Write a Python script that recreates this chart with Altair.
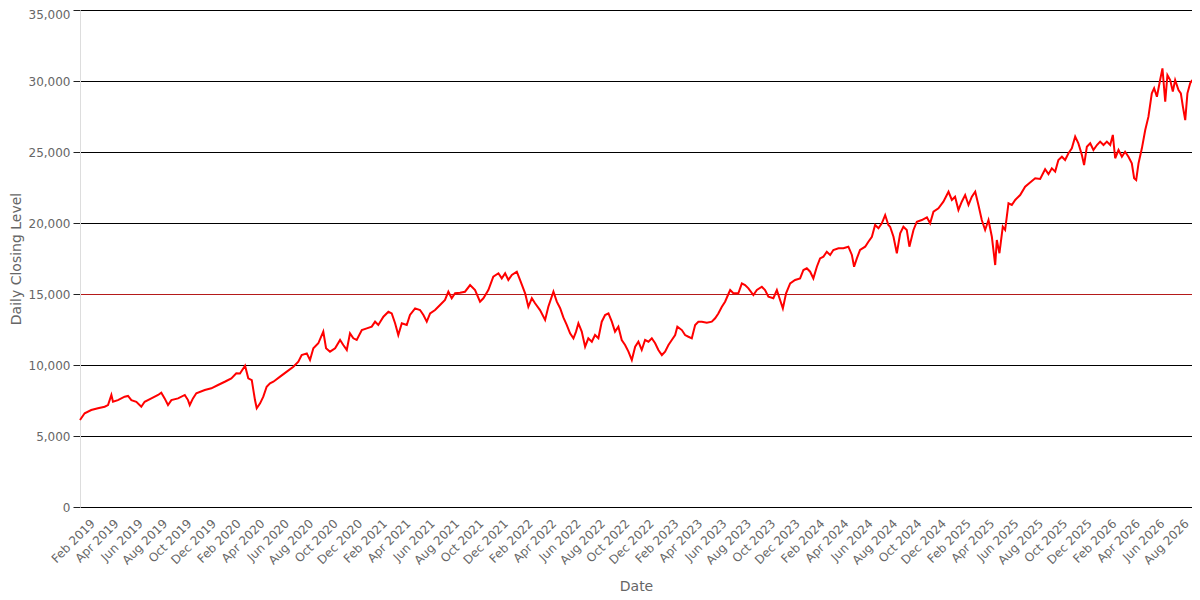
import altair as alt
import pandas as pd

# Decimal-year positions of the readings and the closing levels
years = [
    2019.000, 2019.032, 2019.077, 2019.123, 2019.169, 2019.192, 2019.215, 2019.226, 2019.260, 2019.306,
    2019.329, 2019.352, 2019.386, 2019.420, 2019.443, 2019.489, 2019.535, 2019.557, 2019.580, 2019.603,
    2019.626, 2019.672, 2019.718, 2019.740, 2019.752, 2019.774, 2019.797, 2019.855, 2019.900, 2019.946,
    2019.992, 2020.037, 2020.071, 2020.096, 2020.131, 2020.153, 2020.177, 2020.199, 2020.211, 2020.234,
    2020.256, 2020.279, 2020.302, 2020.325, 2020.371, 2020.417, 2020.462, 2020.496, 2020.519, 2020.554,
    2020.576, 2020.599, 2020.633, 2020.667, 2020.686, 2020.713, 2020.748, 2020.782, 2020.804, 2020.828,
    2020.850, 2020.873, 2020.896, 2020.931, 2020.965, 2020.999, 2021.022, 2021.044, 2021.079, 2021.113,
    2021.136, 2021.159, 2021.181, 2021.205, 2021.239, 2021.261, 2021.296, 2021.330, 2021.353, 2021.376,
    2021.399, 2021.433, 2021.467, 2021.501, 2021.524, 2021.547, 2021.570, 2021.604, 2021.638, 2021.673,
    2021.707, 2021.741, 2021.764, 2021.798, 2021.832, 2021.867, 2021.890, 2021.913, 2021.935, 2021.959,
    2021.993, 2022.015, 2022.050, 2022.072, 2022.096, 2022.118, 2022.152, 2022.187, 2022.209, 2022.244,
    2022.267, 2022.290, 2022.312, 2022.335, 2022.358, 2022.381, 2022.399, 2022.415, 2022.438, 2022.461,
    2022.483, 2022.507, 2022.529, 2022.552, 2022.575, 2022.598, 2022.621, 2022.644, 2022.666, 2022.689,
    2022.712, 2022.735, 2022.758, 2022.781, 2022.804, 2022.826, 2022.849, 2022.872, 2022.895, 2022.918,
    2022.941, 2022.963, 2022.987, 2023.009, 2023.032, 2023.055, 2023.078, 2023.093, 2023.124, 2023.146,
    2023.169, 2023.192, 2023.215, 2023.237, 2023.261, 2023.295, 2023.329, 2023.352, 2023.374, 2023.398,
    2023.420, 2023.443, 2023.455, 2023.477, 2023.511, 2023.535, 2023.557, 2023.580, 2023.614, 2023.638,
    2023.672, 2023.694, 2023.717, 2023.751, 2023.775, 2023.797, 2023.816, 2023.838, 2023.866, 2023.900,
    2023.934, 2023.957, 2023.980, 2024.003, 2024.025, 2024.049, 2024.071, 2024.094, 2024.117, 2024.140,
    2024.162, 2024.197, 2024.231, 2024.265, 2024.289, 2024.304, 2024.323, 2024.345, 2024.380, 2024.402,
    2024.426, 2024.448, 2024.471, 2024.494, 2024.517, 2024.539, 2024.551, 2024.574, 2024.597, 2024.620,
    2024.642, 2024.665, 2024.683, 2024.711, 2024.734, 2024.768, 2024.803, 2024.825, 2024.848, 2024.882,
    2024.916, 2024.951, 2024.974, 2024.996, 2025.019, 2025.042, 2025.065, 2025.088, 2025.111, 2025.134,
    2025.156, 2025.179, 2025.202, 2025.225, 2025.248, 2025.271, 2025.282, 2025.300, 2025.323, 2025.339,
    2025.362, 2025.385, 2025.408, 2025.442, 2025.476, 2025.510, 2025.545, 2025.579, 2025.613, 2025.636,
    2025.659, 2025.682, 2025.704, 2025.728, 2025.750, 2025.773, 2025.796, 2025.819, 2025.841, 2025.865,
    2025.880, 2025.899, 2025.922, 2025.944, 2025.968, 2025.990, 2026.013, 2026.036, 2026.059, 2026.077,
    2026.093, 2026.116, 2026.139, 2026.161, 2026.184, 2026.207, 2026.223, 2026.237, 2026.253, 2026.276,
    2026.299, 2026.321, 2026.344, 2026.360, 2026.379, 2026.401, 2026.417, 2026.436, 2026.451, 2026.470,
    2026.488, 2026.504, 2026.527, 2026.543, 2026.557, 2026.573, 2026.588, 2026.607, 2026.621,
]

closes = [
    6130, 6600, 6830, 6950, 7060, 7180, 7890, 7410, 7530, 7770,
    7820, 7530, 7410, 7060, 7410, 7650, 7890, 8050, 7650, 7180,
    7530, 7650, 7890, 7530, 7180, 7650, 8010, 8240, 8360, 8590,
    8820, 9060, 9415, 9400, 9950, 9060, 8940, 7530, 6950, 7300,
    7770, 8470, 8710, 8820, 9180, 9530, 9880, 10230, 10700, 10820,
    10350, 11180, 11530, 12350, 11180, 10940, 11180, 11760, 11410, 11060,
    12230, 11880, 11760, 12460, 12580, 12700, 13050, 12820, 13400, 13750,
    13630, 12940, 12110, 12940, 12820, 13520, 13990, 13870, 13520, 13050,
    13630, 13870, 14230, 14580, 15160, 14700, 15050, 15090, 15160, 15630,
    15280, 14460, 14700, 15280, 16220, 16460, 16100, 16460, 15990, 16340,
    16570, 15990, 15050, 14100, 14700, 14350, 13870, 13170, 14100, 15160,
    14460, 14000, 13350, 12820, 12230, 11880, 12350, 12940, 12350, 11290,
    11880, 11640, 12110, 11880, 13050, 13520, 13630, 13050, 12350, 12700,
    11760, 11410, 10940, 10350, 11290, 11640, 11060, 11760, 11640, 11880,
    11530, 11060, 10700, 10940, 11410, 11760, 12110, 12700, 12460, 12110,
    11990, 11880, 12820, 13050, 13050, 12980, 13050, 13290, 13630, 14100,
    14460, 15000, 15280, 15050, 15050, 15750, 15630, 15400, 14930, 15280,
    15510, 15280, 14810, 14700, 15280, 14580, 13990, 15050, 15750, 15990,
    16100, 16690, 16810, 16570, 16100, 16920, 17510, 17630, 17980, 17750,
    18100, 18220, 18220, 18330, 17750, 16920, 17510, 18100, 18330, 18680,
    19030, 19860, 19630, 19980, 20560, 19860, 19740, 19030, 17870, 19270,
    19740, 19510, 18330, 19510, 20090, 20210, 20400, 19980, 20800, 21040,
    21500, 22200, 21620, 21850, 20920, 21500, 21970, 21270, 21850, 22200,
    21270, 20210, 19510, 20210, 19030, 17040, 18800, 17870, 19740, 19510,
    21390, 21270, 21620, 21970, 22560, 22850, 23150, 23100, 23790, 23440,
    23850, 23620, 24440, 24670, 24440, 24910, 25260, 26080, 25610, 24790,
    24080, 25370, 25610, 25140, 25490, 25730, 25490, 25730, 25490, 26200,
    24560, 25140, 24670, 25020, 24670, 24200, 23150, 23030, 24200, 25260,
    26550, 27490, 29130, 29490, 28890, 30070, 30890, 28540, 30420, 30070,
    29250, 30070, 29370, 29130, 28190, 27250, 29130, 29840, 30070,
]

y_ticks = [0, 5000, 10000, 15000, 20000, 25000, 30000, 35000]
x_tick_months = pd.date_range("2019-02-01", "2026-08-01", freq="2MS")

start = pd.Timestamp("2019-01-01")
dates = [start + pd.Timedelta(days=(t - 2019.0) * 365.25) for t in years]
df = pd.DataFrame({"Date": dates, "Close": closes})

x_values = [alt.DateTime(year=d.year, month=d.month, date=1) for d in x_tick_months]

chart = (
    alt.Chart(df)
    .mark_line(color="#ff0000", strokeWidth=2)
    .encode(
        x=alt.X(
            "Date:T",
            title="Date",
            scale=alt.Scale(
                domain=[
                    alt.DateTime(year=2019, month=1, date=1),
                    alt.DateTime(year=2026, month=8, date=15),
                ],
                nice=False,
            ),
            axis=alt.Axis(
                values=x_values,
                format="%b %Y",
                labelAngle=-45,
                labelAlign="right",
                labelBaseline="middle",
                labelPadding=14,
                ticks=False,
                domain=False,
                grid=False,
                labelFontSize=12,
                titleFontSize=14,
                titlePadding=13,
                labelColor="#666666",
                titleColor="#666666",
                labelFont="DejaVu Sans",
                titleFont="DejaVu Sans",
                titleFontWeight="normal",
                labelOverlap=False,
            ),
        ),
        y=alt.Y(
            "Close:Q",
            title="Daily Closing Level",
            scale=alt.Scale(domain=[0, 35000], nice=False),
            axis=alt.Axis(
                values=y_ticks,
                format=",.0f",
                grid=True,
                gridColor=alt.condition(
                    "datum.value === 15000", alt.value("#b51a1a"), alt.value("black")
                ),
                gridWidth=1,
                domainColor="#dddddd",
                tickColor="#222222",
                tickSize=7,
                labelPadding=3,
                labelOffset=alt.condition(
                    "datum.value === 35000", alt.value(4), alt.value(0)
                ),
                labelFontSize=12,
                titleFontSize=14,
                labelColor="#666666",
                titleColor="#666666",
                labelFont="DejaVu Sans",
                titleFont="DejaVu Sans",
                titleFontWeight="normal",
                titlePadding=5,
            ),
        ),
    )
    .properties(
        width=1112,
        height=497,
        autosize=alt.AutoSizeParams(type="none"),
        padding={"left": 72, "top": 2, "right": 0, "bottom": 92},
    )
    .configure_view(stroke=None)
)

chart.save("out.html", embed_options={"renderer": "svg", "actions": False})
